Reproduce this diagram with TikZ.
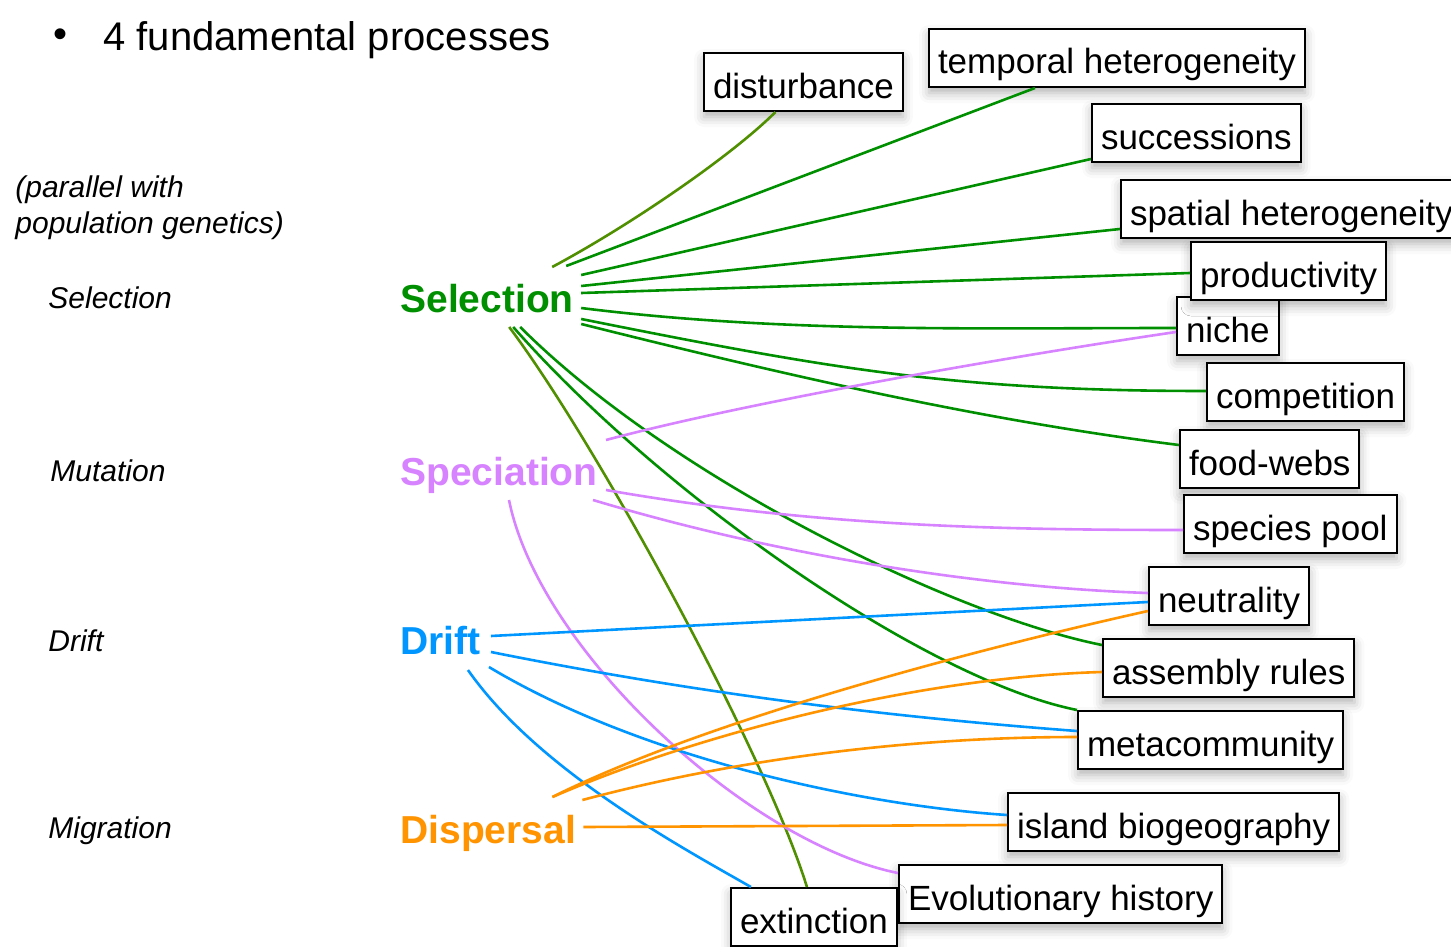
\documentclass[tikz,border=0pt]{standalone}
\usepackage{fontspec}
\setmainfont{Liberation Sans}
\usetikzlibrary{calc, shadows.blur}

\definecolor{clover}{HTML}{008F00}
\definecolor{fern}{HTML}{4F8F00}
\definecolor{lavender}{HTML}{D783FF}
\definecolor{aqua}{HTML}{0096FF}
\definecolor{tangerine}{HTML}{FF9300}

\begin{document}
\begin{tikzpicture}[
    x=0.5pt, y=-0.5pt,
    box/.style={
        draw,
        fill=white,
        line width=1pt,
        anchor=west,
        inner xsep=4.5pt,
        minimum height=29pt,
        text height=16pt,
        text depth=0pt,
        font=\fontsize{17.5}{21}\selectfont,
        blur shadow={shadow xshift=0pt, shadow yshift=-3pt, shadow blur radius=5pt, shadow opacity=30}
    },
    proc/.style={anchor=west, inner sep=0pt, text height=14pt, text depth=0pt,
        font=\fontsize{19.5}{23}\selectfont\bfseries},
    gen/.style={anchor=west, inner sep=0pt, align=left,
        font=\fontsize{15}{18}\selectfont\itshape},
    link/.style={line width=1.3pt}
]
\clip (0,0) rectangle (1451,947);

\node[font=\fontsize{20}{24}\selectfont] (bullet) at (61,38) {\textbullet};
\node[anchor=west, inner sep=0pt, font=\fontsize{20}{24}\selectfont] (title) at (103,40) {4 fundamental processes};

\node[gen] (popgen) at (15,208) {(parallel with\\population genetics)};
\node[gen] (gsel) at (48,298) {Selection};
\node[gen] (gmut) at (50,471) {Mutation};
\node[gen] (gdrift) at (48,641) {Drift};
\node[gen] (gmig) at (48,831) {Migration};

\node[proc, clover] (sel) at (400,298) {Selection};
\node[proc, lavender] (spec) at (400,471) {Speciation};
\node[proc, aqua] (drift) at (400,640) {Drift};
\node[proc, tangerine] (disp) at (400,829) {Dispersal};

\node[box] (dist) at (703,82) {disturbance};
\node[box] (temp) at (928,58) {temporal heterogeneity};
\node[box] (succ) at (1091,133) {successions};
\node[box] (spat) at (1120,209) {spatial heterogeneity};
\node[box] (niche) at (1176,326) {niche};
\node[box] (prod) at (1190,271) {productivity};
\node[box] (comp) at (1206,392) {competition};
\node[box] (food) at (1179,459) {food-webs};
\node[box] (pool) at (1183,524) {species pool};
\node[box] (neut) at (1148,596) {neutrality};
\node[box] (asm) at (1102,668) {assembly rules};
\node[box] (meta) at (1077,740) {metacommunity};
\node[box] (isl) at (1007,822) {island biogeography};
\node[box] (evol) at (898,894) {Evolutionary history};
\node[box] (ext) at (730,917) {extinction};

\draw[link, fern] ([shift={(-22,-31)}]sel.east) .. controls +(75,-40) and +(-45,45) .. ([shift={(-28,0)}]dist.south);
\draw[link, clover] ([shift={(-8,-32)}]sel.east) -- ([shift={(-82,0)}]temp.south);
\draw[link, clover] ([shift={(7,-23)}]sel.east) -- ([shift={(0,-4)}]succ.south west);
\draw[link, clover] ([shift={(7,-12)}]sel.east) -- ([shift={(0,-10)}]spat.south west);
\draw[link, clover] ([shift={(7,-5)}]sel.east) -- ([shift={(0,2)}]prod.west);
\draw[link, clover] ([shift={(7,10)}]sel.east) .. controls +(200,25) and +(-200,0) .. ([shift={(0,2)}]niche.west);
\draw[link, clover] ([shift={(7,21)}]sel.east) .. controls +(250,50) and +(-250,0) .. ([shift={(0,-1)}]comp.west);
\draw[link, clover] ([shift={(7,26)}]sel.east) .. controls +(200,50) and +(-200,-25) .. ([shift={(0,-14)}]food.west);
\draw[link, fern] ([shift={(-65,29)}]sel.east) .. controls +(90,120) and +(-40,-130) .. ([shift={(-7,0)}]ext.north);
\draw[link, clover] ([shift={(-54,29)}]sel.east) .. controls +(150,150) and +(-150,-30) .. ([shift={(0,7)}]asm.north west);
\draw[link, clover] ([shift={(-61,29)}]sel.east) .. controls +(150,170) and +(-150,-30) .. (meta.north west);

\draw[link, lavender] ([shift={(8,-31)}]spec.east) .. controls +(150,-40) and +(-150,22) .. ([shift={(0,6)}]niche.west);
\draw[link, lavender] ([shift={(8,19)}]spec.east) .. controls +(200,35) and +(-200,0) .. ([shift={(0,6)}]pool.west);
\draw[link, lavender] ([shift={(-5,29)}]spec.east) .. controls +(200,60) and +(-150,-5) .. ([shift={(0,-3)}]neut.west);
\draw[link, lavender] ([shift={(-89,29)}]spec.east) .. controls +(30,150) and +(-150,-30) .. ([shift={(0,-21)}]evol.west);

\draw[link, aqua] ([shift={(10,-4)}]drift.east) -- ([shift={(0,6)}]neut.west);
\draw[link, aqua] ([shift={(10,12)}]drift.east) .. controls +(200,40) and +(-200,-15) .. ([shift={(0,-9)}]meta.west);
\draw[link, aqua] ([shift={(8,27)}]drift.east) .. controls +(150,90) and +(-150,-10) .. ([shift={(0,-7)}]isl.west);
\draw[link, aqua] ([shift={(-13,30)}]drift.east) .. controls +(70,100) and +(-70,-40) .. ([shift={(-63,0)}]ext.north);

\draw[link, tangerine] ([shift={(-24,-32)}]disp.east) .. controls +(150,-75) and +(-180,40) .. ([shift={(0,15)}]neut.west);
\draw[link, tangerine] ([shift={(-24,-32)}]disp.east) .. controls +(150,-65) and +(-180,5) .. ([shift={(0,4)}]asm.west);
\draw[link, tangerine] ([shift={(6,-29)}]disp.east) .. controls +(150,-40) and +(-170,0) .. ([shift={(0,-3)}]meta.west);
\draw[link, tangerine] ([shift={(7,-2)}]disp.east) -- ([shift={(0,3)}]isl.west);

\end{tikzpicture}
\end{document}
